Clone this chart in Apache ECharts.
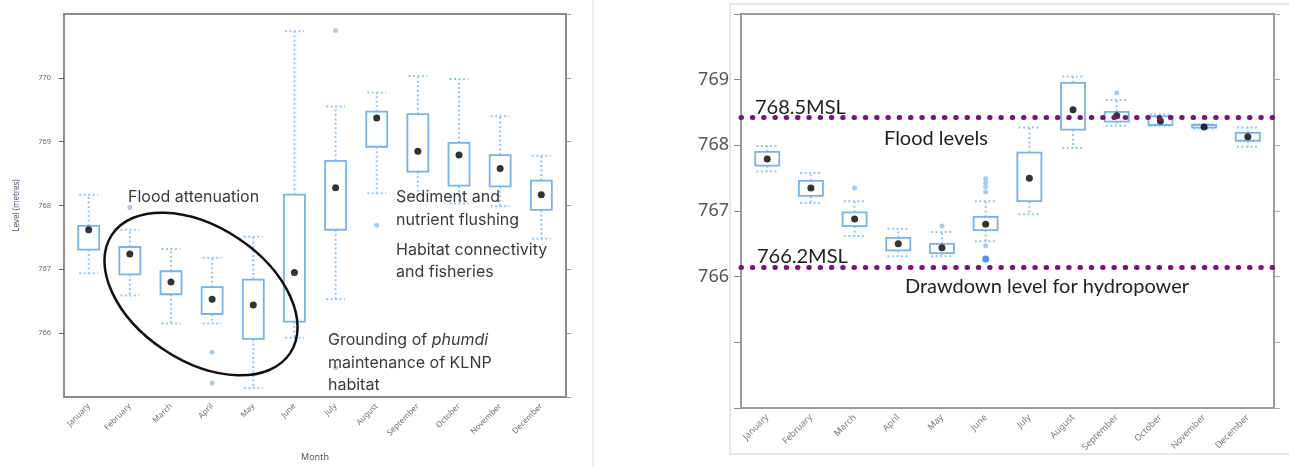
<!DOCTYPE html>
<html>
<head>
<meta charset="utf-8">
<script src="https://cdn.jsdelivr.net/npm/echarts@6/dist/echarts.min.js"></script>
<style>
html, body { margin: 0; background: #fff; }
#chart { width: 1289px; height: 467px; }
</style>
</head>
<body>
<div id="chart"></div>
<script>
// month labels and their positions on the x scale (lattice style limits 0.4 .. 12.6)
const months = ['January', 'February', 'March', 'April', 'May', 'June', 'July',
    'August', 'September', 'October', 'November', 'December'];
const monthPos = [1, 2, 3, 4, 5, 6, 7, 8, 9, 10, 11, 12];

// left panel: historical lake levels (metres)
const leftLow  = [766.94, 766.59, 766.15, 766.15, 765.14, 765.93, 766.53, 768.19, 768.16, 768.03, 767.99, 767.48];
const leftQ1   = [767.31, 766.92, 766.61, 766.30, 765.91, 766.18, 767.62, 768.92, 768.53, 768.31, 768.30, 767.93];
const leftMed  = [767.62, 767.24, 766.80, 766.53, 766.44, 766.95, 768.28, 769.37, 768.85, 768.79, 768.58, 768.17];
const leftQ3   = [767.68, 767.35, 766.97, 766.72, 766.84, 768.17, 768.70, 769.47, 769.43, 768.98, 768.79, 768.39];
const leftHigh = [768.17, 767.62, 767.32, 767.18, 767.51, 770.73, 769.55, 769.77, 770.03, 769.98, 769.40, 768.78];
const leftOutliers = [[2, 767.97], [4, 765.70], [4, 765.22], [7, 770.74], [7, 765.46], [8, 767.69]];

// right panel: regulated levels
const rightLow  = [767.60, 767.12, 766.62, 766.31, 766.31, 766.54, 766.95, 767.96, 768.30, 768.30, 768.26, 767.98];
const rightQ1   = [767.69, 767.23, 766.77, 766.40, 766.36, 766.71, 767.15, 768.24, 768.36, 768.31, 768.27, 768.07];
const rightMed  = [767.79, 767.35, 766.88, 766.50, 766.44, 766.80, 767.50, 768.54, 768.45, 768.37, 768.28, 768.13];
const rightQ3   = [767.90, 767.46, 766.98, 766.59, 766.50, 766.91, 767.89, 768.95, 768.51, 768.44, 768.31, 768.19];
const rightHigh = [767.99, 767.58, 767.15, 766.73, 766.68, 767.15, 768.27, 769.05, 768.69, 768.47, 768.32, 768.27];
const rightOutliers = [[3, 767.35], [5, 766.77], [6, 767.49], [6, 767.43], [6, 767.37], [6, 767.29], [6, 766.47], [9, 768.80]];
const rightLowOutlier = [[6, 766.27]];

const floodLevel = 768.43;
const drawdownLevel = 766.14;

const boxBlue = '#74b3f0';
const whiskBlue = '#92c7f6';

function boxData(low, q1, q3, high) {
    return monthPos.map((x, i) => [x, low[i], q1[i], q3[i], high[i]]);
}
function medData(med) {
    return monthPos.map((x, i) => [x, med[i]]);
}

// draws box + dotted whiskers; median is a separate scatter dot
function makeRender(boxRatio) {
    return function (params, api) {
        const x = api.value(0);
        const lo = api.coord([x, api.value(1)]);
        const q1 = api.coord([x, api.value(2)]);
        const q3 = api.coord([x, api.value(3)]);
        const hi = api.coord([x, api.value(4)]);
        const bw = api.size([1, 0])[0] * boxRatio;
        const cw = bw * 0.9;
        const dash = {stroke: whiskBlue, lineWidth: 2, lineDash: [2, 2.5], fill: null};
        return {
            type: 'group',
            children: [
                {type: 'line', shape: {x1: hi[0], y1: q3[1], x2: hi[0], y2: hi[1]}, style: dash},
                {type: 'line', shape: {x1: lo[0], y1: q1[1], x2: lo[0], y2: lo[1]}, style: dash},
                {type: 'line', shape: {x1: hi[0] - cw / 2, y1: hi[1], x2: hi[0] + cw / 2, y2: hi[1]}, style: dash},
                {type: 'line', shape: {x1: lo[0] - cw / 2, y1: lo[1], x2: lo[0] + cw / 2, y2: lo[1]}, style: dash},
                {
                    type: 'rect',
                    shape: {x: q3[0] - bw / 2, y: q3[1], width: bw, height: Math.max(q1[1] - q3[1], 1.5)},
                    style: {fill: '#fff', stroke: boxBlue, lineWidth: 1.8}
                }
            ]
        };
    };
}

const chart = echarts.init(document.getElementById('chart'));

const option = {
    animation: false,
    backgroundColor: '#fff',
    grid: [
        {left: 64, top: 14, width: 502, height: 388, show: true, borderColor: '#8c8c8c', borderWidth: 2},
        {left: 741, top: 14, width: 533, height: 394, show: true, borderColor: '#9a9a9a', borderWidth: 2}
    ],
    xAxis: [
        {
            gridIndex: 0, type: 'value', min: 0.4, max: 12.6,
            splitLine: {show: false}, axisLine: {show: false}, axisTick: {show: false},
            axisLabel: {
                customValues: monthPos, rotate: 45, margin: 8, fontSize: 8,
                color: '#776a7a', fontFamily: 'Noto Sans',
                formatter: v => months[Math.round(v) - 1]
            },
            name: 'Month', nameLocation: 'middle', nameGap: 56,
            nameTextStyle: {fontSize: 9, color: '#4c654c', fontFamily: 'Noto Sans'}
        },
        {
            gridIndex: 1, type: 'value', min: 0.4, max: 12.6,
            splitLine: {show: false}, axisLine: {show: false}, axisTick: {show: false},
            axisLabel: {
                customValues: monthPos, rotate: 45, margin: 8, fontSize: 9,
                color: '#7a7a80', fontFamily: 'Noto Sans',
                formatter: v => months[Math.round(v) - 1]
            }
        }
    ],
    yAxis: [
        {
            gridIndex: 0, type: 'value', min: 765, max: 771, interval: 1,
            splitLine: {show: false}, axisLine: {show: false},
            axisTick: {show: true, length: 5, lineStyle: {color: '#666'}},
            axisLabel: {showMinLabel: false, showMaxLabel: false, fontSize: 7.5, margin: 13,
                color: '#6a6680', fontFamily: 'Noto Sans'},
            name: 'Level (metres)', nameLocation: 'middle', nameGap: 43, nameRotate: 90,
            nameTextStyle: {fontSize: 8, color: '#5a5a78', fontFamily: 'Noto Sans'}
        },
        {
            gridIndex: 0, type: 'value', min: 765, max: 771, interval: 1, position: 'right',
            splitLine: {show: false}, axisLine: {show: false}, axisLabel: {show: false},
            axisTick: {show: true, length: 5, lineStyle: {color: '#999'}}
        },
        {
            gridIndex: 1, type: 'value', min: 764, max: 770, interval: 1,
            splitLine: {show: false}, axisLine: {show: false},
            axisTick: {show: true, length: 7, lineStyle: {color: '#888'}},
            axisLabel: {
                fontSize: 18, margin: 12, color: '#555', fontFamily: 'Noto Sans',
                formatter: v => (v >= 766 && v <= 769) ? String(v) : ''
            }
        },
        {
            gridIndex: 1, type: 'value', min: 764, max: 770, interval: 1, position: 'right',
            splitLine: {show: false}, axisLine: {show: false}, axisLabel: {show: false},
            axisTick: {show: true, length: 6, lineStyle: {color: '#aaa'}}
        }
    ],
    series: [
        {
            type: 'custom', xAxisIndex: 0, yAxisIndex: 0,
            renderItem: makeRender(0.51),
            encode: {x: 0, y: [1, 2, 3, 4]},
            data: boxData(leftLow, leftQ1, leftQ3, leftHigh), z: 2
        },
        {
            type: 'scatter', xAxisIndex: 0, yAxisIndex: 0, symbolSize: 7,
            itemStyle: {color: '#000'}, data: medData(leftMed), z: 4
        },
        {
            type: 'scatter', xAxisIndex: 0, yAxisIndex: 0, symbolSize: 5,
            itemStyle: {color: '#8cc3f5'}, data: leftOutliers, z: 3
        },
        {
            type: 'custom', xAxisIndex: 1, yAxisIndex: 2,
            renderItem: makeRender(0.55),
            encode: {x: 0, y: [1, 2, 3, 4]},
            data: boxData(rightLow, rightQ1, rightQ3, rightHigh), z: 2,
            markLine: {
                silent: true, symbol: 'none', label: {show: false},
                lineStyle: {color: '#7e0f82', width: 5, type: [0.5, 10.8], cap: 'round'},
                data: [{yAxis: floodLevel}, {yAxis: drawdownLevel}]
            }
        },
        {
            type: 'scatter', xAxisIndex: 1, yAxisIndex: 2, symbolSize: 7,
            itemStyle: {color: '#000'}, data: medData(rightMed), z: 4
        },
        {
            type: 'scatter', xAxisIndex: 1, yAxisIndex: 2, symbolSize: 5,
            itemStyle: {color: '#8cc3f5'}, data: rightOutliers, z: 3
        },
        {
            type: 'scatter', xAxisIndex: 1, yAxisIndex: 2, symbolSize: 7,
            itemStyle: {color: '#1f78e8'}, data: rightLowOutlier, z: 3
        }
    ],
    graphic: [
        // faint panel edges
        {type: 'line', shape: {x1: 593, y1: 0, x2: 593, y2: 467}, style: {stroke: '#eeeeee', lineWidth: 2}, silent: true},
        {type: 'rect', shape: {x: 730, y: 4, width: 570, height: 450}, style: {fill: null, stroke: '#e8e8e8', lineWidth: 2}, silent: true},
        // left annotations
        {
            type: 'ellipse', x: 201, y: 294, rotation: -0.586,
            shape: {cx: 0, cy: 0, rx: 107, ry: 67},
            style: {fill: null, stroke: '#111', lineWidth: 2.5}, z: 100
        },
        {type: 'text', x: 128, y: 197, z: 100,
            style: {text: 'Flood attenuation', fontSize: 16, fontFamily: 'Inter', fill: '#3a3a3a', verticalAlign: 'middle'}},
        {type: 'text', x: 396, y: 185, z: 100,
            style: {text: 'Sediment and\nnutrient flushing', fontSize: 16, lineHeight: 23.5, fontFamily: 'Inter', fill: '#3a3a3a', verticalAlign: 'top'}},
        {type: 'text', x: 396, y: 239, z: 100,
            style: {text: 'Habitat connectivity\nand fisheries', fontSize: 16, lineHeight: 22, fontFamily: 'Inter', fill: '#3a3a3a', verticalAlign: 'top'}},
        {type: 'text', x: 328, y: 329, z: 100,
            style: {
                text: 'Grounding of {i|phumdi}\nmaintenance of KLNP\nhabitat',
                fontSize: 16, lineHeight: 22.5, fontFamily: 'Inter', fill: '#3a3a3a', verticalAlign: 'top',
                rich: {i: {fontStyle: 'italic', fontSize: 16, lineHeight: 22.5, fontFamily: 'Inter', fill: '#3a3a3a'}}
            }},
        // right annotations
        {type: 'text', x: 755, y: 108, z: 100,
            style: {text: '768.5MSL', fontSize: 20, fontFamily: 'Lato', fill: '#222', verticalAlign: 'middle'}},
        {type: 'text', x: 884, y: 139, z: 100,
            style: {text: 'Flood levels', fontSize: 20, fontFamily: 'Lato', fill: '#222', verticalAlign: 'middle'}},
        {type: 'text', x: 757, y: 257, z: 100,
            style: {text: '766.2MSL', fontSize: 20, fontFamily: 'Lato', fill: '#222', verticalAlign: 'middle'}},
        {type: 'text', x: 905, y: 287, z: 100,
            style: {text: 'Drawdown level for hydropower', fontSize: 20, fontFamily: 'Lato', fill: '#222', verticalAlign: 'middle'}}
    ]
};

chart.setOption(option);
</script>
</body>
</html>
